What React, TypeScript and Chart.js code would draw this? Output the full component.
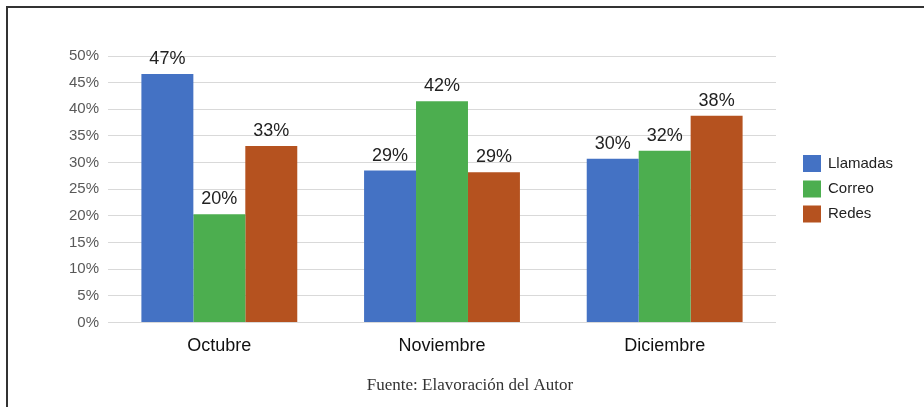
import React, { useEffect, useRef } from "react";
import { Chart, registerables } from "chart.js";

Chart.register(...registerables);

const categories = ["Octubre", "Noviembre", "Diciembre"];
const seriesNames = ["Llamadas", "Correo", "Redes"];
const seriesColors = ["#4472c4", "#4cae4f", "#b5521f"];
const llamadas = [46.6, 28.5, 30.7];
const correo = [20.3, 41.5, 32.2];
const redes = [33.1, 28.2, 38.8];
const llamadasLabels = ["47%", "29%", "30%"];
const correoLabels = ["20%", "42%", "32%"];
const redesLabels = ["33%", "29%", "38%"];
const yTicks = [0, 5, 10, 15, 20, 25, 30, 35, 40, 45, 50];
const footnote = "Fuente: Elavoración del Autor";

const SANS = "'Liberation Sans', Arial, sans-serif";
const SERIF = "'Liberation Serif', 'Times New Roman', serif";

export default function App() {
  const ref = useRef<HTMLCanvasElement | null>(null);

  useEffect(() => {
    document.body.style.margin = "0";
    const canvas = ref.current;
    if (!canvas) return;
    const labelSets = [llamadasLabels, correoLabels, redesLabels];

    const overlay = {
      id: "overlay",
      afterDatasetsDraw(chart: any) {
        const ctx = chart.ctx;
        ctx.save();
        ctx.font = `18px ${SANS}`;
        ctx.fillStyle = "#222";
        ctx.textAlign = "center";
        ctx.textBaseline = "alphabetic";
        chart.data.datasets.forEach((ds: any, di: number) => {
          const meta = chart.getDatasetMeta(di);
          meta.data.forEach((bar: any, i: number) => {
            ctx.fillText(labelSets[di][i], bar.x, bar.y - 10);
          });
        });
        // legend
        ctx.font = `15px ${SANS}`;
        ctx.textAlign = "left";
        ctx.textBaseline = "middle";
        const ys = [163.5, 189, 214];
        chart.data.datasets.forEach((ds: any, di: number) => {
          ctx.fillStyle = ds.backgroundColor;
          ctx.fillRect(803, ys[di] - 8.5, 18, 17);
          ctx.fillStyle = "#222";
          ctx.fillText(ds.label, 828, ys[di]);
        });
        // footnote
        ctx.font = `17px ${SERIF}`;
        ctx.textAlign = "center";
        ctx.fillStyle = "#333";
        ctx.fillText(footnote, 470, 386);
        ctx.restore();
      },
    };

    const chart = new Chart(canvas, {
      type: "bar",
      data: {
        labels: categories,
        datasets: [
          { label: seriesNames[0], data: llamadas, backgroundColor: seriesColors[0] },
          { label: seriesNames[1], data: correo, backgroundColor: seriesColors[1] },
          { label: seriesNames[2], data: redes, backgroundColor: seriesColors[2] },
        ],
      },
      options: {
        responsive: false,
        animation: false,
        devicePixelRatio: 1,
        layout: { padding: { left: 0, right: 148, top: 56, bottom: 0 } },
        datasets: { bar: { categoryPercentage: 0.7, barPercentage: 1 } },
        plugins: { legend: { display: false }, tooltip: { enabled: false } },
        scales: {
          x: {
            grid: { display: false },
            border: { display: false },
            ticks: { font: { size: 18, family: SANS }, color: "#111", padding: 5 },
            afterFit(scale: any) {
              scale.height = 84.5;
            },
          },
          y: {
            min: 0,
            max: 50,
            afterBuildTicks(scale: any) {
              scale.ticks = yTicks.map((v) => ({ value: v }));
            },
            grid: { color: "#d9d9d9", drawTicks: false, lineWidth: 1 },
            border: { display: false },
            ticks: {
              font: { size: 15, family: SANS },
              color: "#595959",
              padding: 9,
              callback: (v: any) => `${v}%`,
            },
            afterFit(scale: any) {
              scale.width = 108;
            },
          },
        },
      },
      plugins: [overlay],
    });
    return () => chart.destroy();
  }, []);

  return (
    <div style={{ position: "relative", width: 924, height: 407, background: "#fff", overflow: "hidden" }}>
      <canvas ref={ref} width={924} height={407} style={{ position: "absolute", left: 0, top: 0 }} />
      <div
        style={{
          position: "absolute",
          left: 6,
          top: 6,
          width: 930,
          height: 420,
          borderTop: "2px solid #333",
          borderLeft: "2px solid #333",
          pointerEvents: "none",
        }}
      />
    </div>
  );
}
